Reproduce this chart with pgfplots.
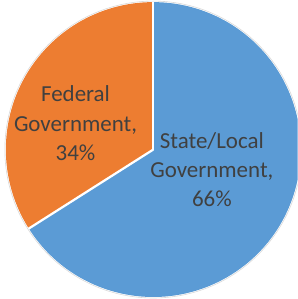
\documentclass[border=0pt]{standalone}
\usepackage{pgfplots}
\pgfplotsset{compat=1.18}
\usepackage{pgfplotstable}
\usetikzlibrary{calc}
\usepackage{fontspec}
\setmainfont{Carlito}
\definecolor{pieblue}{HTML}{5B9BD5}
\definecolor{pieorange}{HTML}{ED7D31}
\definecolor{labtext}{HTML}{404040}
\pgfplotstableread{
name value
Federal 34
State 66
}\pietable
\begin{document}
\pgfplotstablegetelem{0}{value}\of\pietable \let\vfed\pgfplotsretval
\pgfplotstablegetelem{1}{value}\of\pietable \let\vsta\pgfplotsretval
\pgfmathsetmacro{\afed}{90+3.6*\vfed}
\pgfmathsetmacro{\asta}{\afed+3.6*\vsta}
\begin{tikzpicture}
\begin{axis}[
  width=295bp, height=299bp, scale only axis,
  xmin=-152, xmax=143, ymin=-148, ymax=151,
  axis lines=none, clip=true,
]
\fill[pieorange] (axis cs:0,0) -- (axis cs:0,146) arc[start angle=90, end angle=\afed, radius=146bp] -- cycle;
\fill[pieblue] (axis cs:0,0) -- ($(axis cs:0,0)+(\afed:146bp)$) arc[start angle=\afed, end angle=\asta, radius=146bp] -- cycle;
\draw[white, line width=2.2bp] (axis cs:0,0) -- (axis cs:0,147);
\draw[white, line width=2.2bp] (axis cs:0,0) -- ($(axis cs:0,0)+(\afed:147bp)$);
\draw[gray!30, line width=0.6bp] (axis cs:0,0) circle[radius=147bp];
\node[text=labtext, font=\fontsize{22.8}{29}\selectfont, align=center] at (axis cs:-77,26) {Federal\\Government,\\\vfed\%};
\node[text=labtext, font=\fontsize{22.8}{29}\selectfont, align=center] at (axis cs:58,-20) {State/Local\\Government,\\\vsta\%};
\end{axis}
\end{tikzpicture}
\end{document}
